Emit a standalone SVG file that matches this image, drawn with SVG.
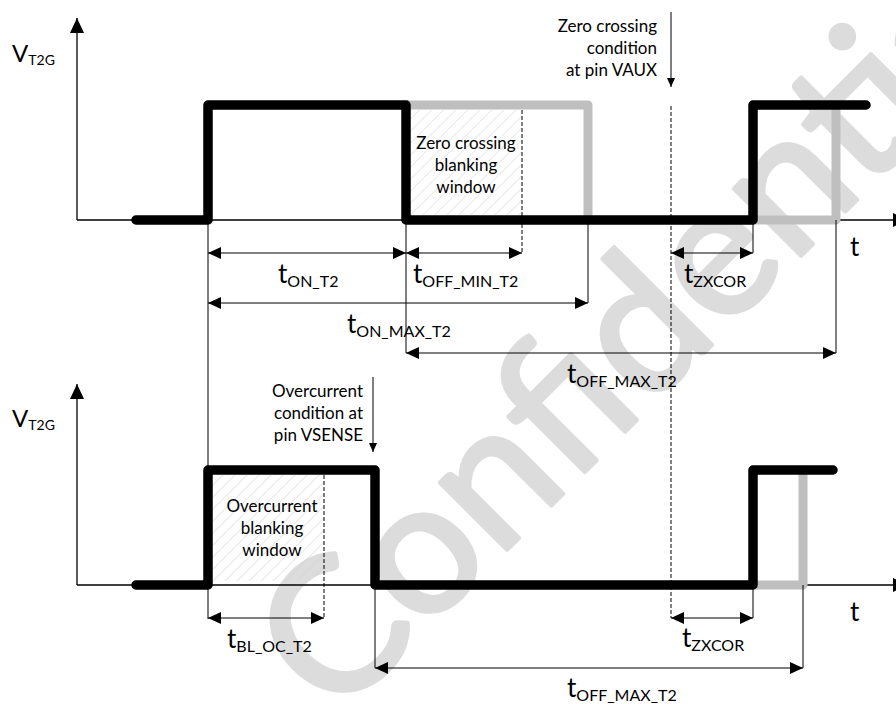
<svg xmlns="http://www.w3.org/2000/svg" width="896" height="704" viewBox="0 0 896 704">
<defs>
<style>
.ax{stroke:#000;stroke-width:1.3;fill:none}
.thin{stroke:#000;stroke-width:1;fill:none}
.dash{stroke:#000;stroke-width:1;stroke-dasharray:4 2;fill:none}
.wave{stroke:#000;stroke-width:9.5;fill:none;stroke-linejoin:round;stroke-linecap:round}
.gwave{stroke:#bfbfbf;stroke-width:9;fill:none;stroke-linejoin:round;stroke-linecap:round}
.dim{stroke:#000;stroke-width:1;fill:none;marker-start:url(#dh);marker-end:url(#dh)}
.cond{stroke:#000;stroke-width:1;fill:none;marker-end:url(#sh)}
.t{font-family:Lato,"Open Sans",sans-serif;font-size:26px;fill:#000}
.v{font-family:Lato,"Open Sans",sans-serif;font-size:24px;fill:#000}
.sub{font-size:16px}
.vsub{font-size:14px}
.note{font-family:Lato,"Open Sans",sans-serif;font-size:17px;fill:#000}
.wm{font-family:Lato,"Open Sans",sans-serif;font-size:188px;fill:#dcdcdc;stroke:#dcdcdc;stroke-width:4;stroke-linejoin:round}
</style>
<marker id="dh" markerUnits="userSpaceOnUse" markerWidth="13" markerHeight="12" refX="13" refY="6" orient="auto-start-reverse"><path d="M0,0L13,6L0,12z" fill="#000"/></marker>
<marker id="axh" markerUnits="userSpaceOnUse" markerWidth="15" markerHeight="14" refX="15" refY="7" orient="auto"><path d="M0,0L15,7L0,14z" fill="#000"/></marker>
<marker id="sh" markerUnits="userSpaceOnUse" markerWidth="9" markerHeight="8" refX="9" refY="4" orient="auto"><path d="M0,0L9,4L0,8z" fill="#000"/></marker>
<pattern id="hatch" patternUnits="userSpaceOnUse" width="8.5" height="8.5" patternTransform="rotate(45)"><line x1="0" y1="0" x2="0" y2="8.5" stroke="#d2d2d2" stroke-width="1"/></pattern>
</defs>
<rect width="896" height="704" fill="#fff"/>
<g id="watermark"><text class="wm" x="335" y="722" transform="rotate(-45 335 722)">Confidential</text></g>

<g id="hatched">
<rect x="411" y="110" width="111" height="106" fill="url(#hatch)"/>
<rect x="213" y="475" width="111" height="106" fill="url(#hatch)"/>
</g>

<g id="axes">
<path class="ax" d="M77,220V18" marker-end="url(#axh)"/>
<path class="ax" d="M77,220H908" marker-end="url(#axh)"/>
<path class="ax" d="M77,585V384" marker-end="url(#axh)"/>
<path class="ax" d="M77,585H908" marker-end="url(#axh)"/>
</g>

<g id="waveforms">
<path class="gwave" d="M406,105H588V220"/>
<path class="gwave" d="M836,105V220H753"/>
<path class="gwave" d="M803,470V585H753"/>
<path class="wave" d="M136,220H208V105H406V220H753V105H866"/>
<path class="wave" d="M136,585H208V470H375V585H753V470H833"/>
</g>

<g id="connectors">
<path class="thin" d="M208,220V619M406,220V353M588,220V303M753,220V253M836,220V353M375,585V668M753,585V618M803,585V668"/>
<path class="dash" d="M522,110V253M671,106V618M324,475V618"/>
<path class="cond" d="M671,12V87"/>
<path class="cond" d="M373,377V452"/>
<path class="dim" d="M208,253H406"/>
<path class="dim" d="M406,253H522"/>
<path class="dim" d="M208,303H588"/>
<path class="dim" d="M406,353H836"/>
<path class="dim" d="M671,253H753"/>
<path class="dim" d="M208,618H324"/>
<path class="dim" d="M671,618H753"/>
<path class="dim" d="M375,668H803"/>
</g>

<g id="labels">
<text class="v" x="12" y="62">V<tspan class="vsub" dy="3">T2G</tspan></text>
<text class="v" x="12" y="427">V<tspan class="vsub" dy="3">T2G</tspan></text>
<text class="t" x="850" y="256">t</text>
<text class="t" x="850" y="621">t</text>
<text class="t" x="278" y="283">t<tspan class="sub" dy="4">ON_T2</tspan></text>
<text class="t" x="413" y="283">t<tspan class="sub" dy="4">OFF_MIN_T2</tspan></text>
<text class="t" x="347" y="333">t<tspan class="sub" dy="4">ON_MAX_T2</tspan></text>
<text class="t" x="567" y="383">t<tspan class="sub" dy="4">OFF_MAX_T2</tspan></text>
<text class="t" x="684" y="283">t<tspan class="sub" dy="4">ZXCOR</tspan></text>
<text class="t" x="227" y="648">t<tspan class="sub" dy="4">BL_OC_T2</tspan></text>
<text class="t" x="682" y="647">t<tspan class="sub" dy="4">ZXCOR</tspan></text>
<text class="t" x="567" y="697">t<tspan class="sub" dy="4">OFF_MAX_T2</tspan></text>
<g class="note" text-anchor="end">
<text x="657" y="32">Zero crossing</text>
<text x="657" y="54">condition</text>
<text x="657" y="76">at pin VAUX</text>
<text x="363" y="397">Overcurrent</text>
<text x="363" y="419">condition at</text>
<text x="363" y="441">pin VSENSE</text>
</g>
<g class="note" text-anchor="middle">
<text x="466" y="149">Zero crossing</text>
<text x="466" y="171">blanking</text>
<text x="466" y="193">window</text>
<text x="272" y="512">Overcurrent</text>
<text x="272" y="534">blanking</text>
<text x="272" y="556">window</text>
</g>
</g>
</svg>
